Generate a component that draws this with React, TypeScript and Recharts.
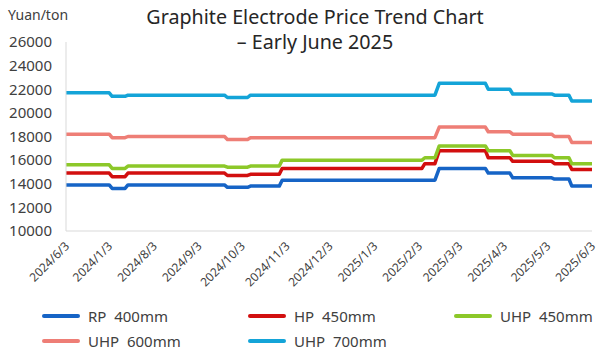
import { LineChart, Line, XAxis, YAxis } from "recharts";

// 价格变化节点（每次调价前后各一个点）
const DATES = [
  "2024-06-03", "2024-07-03", "2024-07-05", "2024-07-14", "2024-07-16",
  "2024-09-21", "2024-09-23", "2024-10-07", "2024-10-09", "2024-10-29",
  "2024-10-31", "2025-02-05", "2025-02-07", "2025-02-14", "2025-02-17",
  "2025-03-21", "2025-03-23", "2025-04-07", "2025-04-09", "2025-05-06",
  "2025-05-08", "2025-05-18", "2025-05-20", "2025-06-03",
];

const RP_400 = [
  13900, 13900, 13600, 13600, 13900, 13900, 13700, 13700, 13800, 13800,
  14300, 14300, 14300, 14300, 15300, 15300, 14900, 14900, 14500, 14500,
  14400, 14400, 13800, 13800,
];
const HP_450 = [
  14900, 14900, 14600, 14600, 14900, 14900, 14700, 14700, 14800, 14800,
  15300, 15300, 15700, 15700, 16800, 16800, 16200, 16200, 15900, 15900,
  15700, 15700, 15200, 15200,
];
const UHP_450 = [
  15600, 15600, 15300, 15300, 15500, 15500, 15400, 15400, 15500, 15500,
  16000, 16000, 16200, 16200, 17200, 17200, 16800, 16800, 16400, 16400,
  16200, 16200, 15700, 15700,
];
const UHP_600 = [
  18200, 18200, 17900, 17900, 18000, 18000, 17750, 17750, 17900, 17900,
  17900, 17900, 17900, 17900, 18800, 18800, 18400, 18400, 18200, 18200,
  18000, 18000, 17500, 17500,
];
const UHP_700 = [
  21700, 21700, 21400, 21400, 21500, 21500, 21300, 21300, 21500, 21500,
  21500, 21500, 21500, 21500, 22500, 22500, 22000, 22000, 21600, 21600,
  21500, 21500, 21000, 21000,
];

const TICK_DATES = [
  "2024-06-03", "2024-07-03", "2024-08-03", "2024-09-03", "2024-10-03",
  "2024-11-03", "2024-12-03", "2025-01-03", "2025-02-03", "2025-03-03",
  "2025-04-03", "2025-05-03", "2025-06-03",
];
const TICK_LABELS = [
  "2024/6/3", "2024/1/3", "2024/8/3", "2024/9/3", "2024/10/3",
  "2024/11/3", "2024/12/3", "2025/1/3", "2025/2/3", "2025/3/3",
  "2025/4/3", "2025/5/3", "2025/6/3",
];
const Y_TICKS = [10000, 12000, 14000, 16000, 18000, 20000, 22000, 24000, 26000];

const SERIES_KEYS = ["rp400", "hp450", "uhp450", "uhp600", "uhp700"];
const SERIES_NAMES = ["RP  400mm", "HP  450mm", "UHP  450mm", "UHP  600mm", "UHP  700mm"];
const SERIES_COLORS = ["#1664C6", "#D20F0F", "#8CC829", "#EE7E76", "#14A4D8"];
const SERIES_VALUES = [RP_400, HP_450, UHP_450, UHP_600, UHP_700];

const FONT = "'Noto Sans', 'Open Sans', sans-serif";

const START = Date.parse(DATES[0]);
const dayOf = (s: string) => Math.round((Date.parse(s) - START) / 86400000);
const TICK_DAYS = TICK_DATES.map(dayOf);

const chartData = DATES.map((d, i) => {
  const row: Record<string, number> = { day: dayOf(d) };
  SERIES_KEYS.forEach((k, s) => {
    row[k] = SERIES_VALUES[s][i];
  });
  return row;
});

// 斜着的日期刻度
function DateTick({ x, y, payload }: { x?: number; y?: number; payload?: { value: number } }) {
  const idx = TICK_DAYS.indexOf(payload?.value ?? -1);
  return (
    <g transform={`translate(${(x ?? 0) + 4},${(y ?? 0) + 8})`}>
      <text
        x={0}
        y={0}
        textAnchor="end"
        transform="rotate(-45)"
        fontSize={12}
        fill="#404040"
        fontFamily={FONT}
      >
        {TICK_LABELS[idx] ?? ""}
      </text>
    </g>
  );
}

export default function App() {
  return (
    <div
      style={{
        position: "absolute",
        left: 0,
        top: 0,
        width: 600,
        height: 353,
        background: "#fff",
        fontFamily: FONT,
      }}
    >
      <div style={{ position: "absolute", left: 8, top: 5, fontSize: 14, color: "#404040" }}>
        Yuan/ton
      </div>
      <div
        style={{
          position: "absolute",
          left: 115,
          width: 400,
          top: 4,
          textAlign: "center",
          fontSize: 19.7,
          lineHeight: "25px",
          color: "#262626",
        }}
      >
        Graphite Electrode Price Trend Chart
        <br />– Early June 2025
      </div>

      <LineChart
        width={600}
        height={353}
        data={chartData}
        margin={{ top: 42, right: 8, left: 0, bottom: 62 }}
      >
        <XAxis
          type="number"
          dataKey="day"
          domain={[0, 365]}
          ticks={TICK_DAYS}
          interval={0}
          tick={<DateTick />}
          tickLine={false}
          axisLine={{ stroke: "#D9D9D9" }}
          height={60}
        />
        <YAxis
          type="number"
          domain={[10000, 26000]}
          ticks={Y_TICKS}
          interval={0}
          width={66}
          tickLine={false}
          tickMargin={8}
          axisLine={{ stroke: "#D9D9D9" }}
          tick={{ fontSize: 15, fill: "#404040", fontFamily: FONT }}
        />
        {SERIES_KEYS.map((k, i) => (
          <Line
            key={k}
            type="linear"
            dataKey={k}
            name={SERIES_NAMES[i]}
            stroke={SERIES_COLORS[i]}
            strokeWidth={3.5}
            strokeLinejoin="round"
            dot={false}
            isAnimationActive={false}
          />
        ))}
      </LineChart>

      {/* 图例 */}
      <div
        style={{
          position: "absolute",
          left: 42,
          top: 303,
          width: 620,
          display: "flex",
          flexWrap: "wrap",
        }}
      >
        {SERIES_NAMES.map((name, i) => (
          <div
            key={name}
            style={{ width: 206, height: 25, display: "flex", alignItems: "center" }}
          >
            <span
              style={{
                display: "inline-block",
                width: 38,
                height: 4,
                borderRadius: 2,
                background: SERIES_COLORS[i],
                marginRight: 8,
              }}
            />
            <span style={{ fontSize: 15, color: "#404040", whiteSpace: "pre" }}>{name}</span>
          </div>
        ))}
      </div>
    </div>
  );
}
